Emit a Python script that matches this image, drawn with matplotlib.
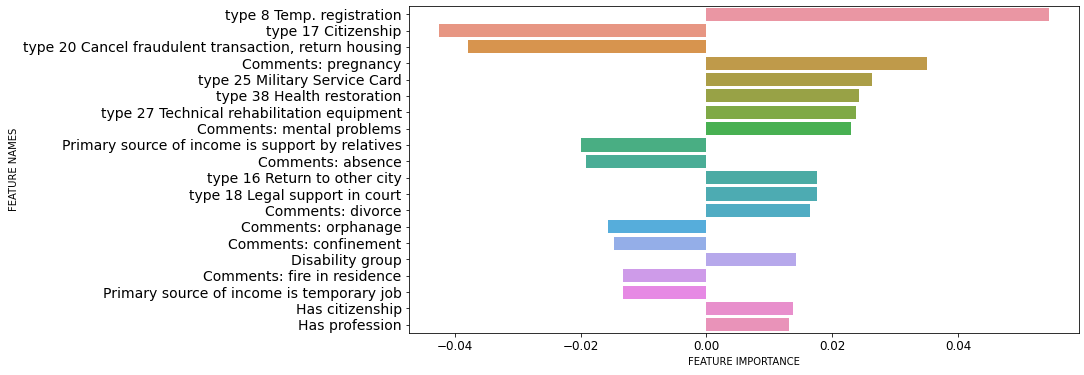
import matplotlib
matplotlib.use('Agg')
from matplotlib import pyplot as plt
import seaborn as sns

features = [
    'type 8 Temp. registration',
    'type 17 Citizenship',
    'type 20 Cancel fraudulent transaction, return housing',
    'Comments: pregnancy',
    'type 25 Military Service Card',
    'type 38 Health restoration',
    'type 27 Technical rehabilitation equipment',
    'Comments: mental problems',
    'Primary source of income is support by relatives',
    'Comments: absence',
    'type 16 Return to other city',
    'type 18 Legal support in court',
    'Comments: divorce',
    'Comments: orphanage',
    'Comments: confinement',
    'Disability group',
    'Comments: fire in residence',
    'Primary source of income is temporary job',
    'Has citizenship',
    'Has profession',
]
importance = [0.0544, -0.0425, -0.0379, 0.0350, 0.0263, 0.0243, 0.0238, 0.0229,
              -0.0199, -0.0191, 0.0176, 0.0175, 0.0165, -0.0157, -0.0147, 0.0142,
              -0.0133, -0.0133, 0.0137, 0.0132]

colors = [sns.desaturate(c, 0.75) for c in sns.husl_palette(len(features), l=.7)]

fig = plt.figure(figsize=(1084 / 72, 375 / 72), dpi=72)
ax = fig.add_axes([0.377, 0.112, 0.6185, 0.872])
ypos = list(range(len(features)))
ax.barh(ypos, importance, height=0.8, color=colors)
ax.set_yticks(ypos)
ax.set_yticklabels(features, fontsize=14)
ax.set_ylim(len(features) - 0.5, -0.5)
ax.tick_params(axis='x', labelsize=12)
ax.set_xlabel('FEATURE IMPORTANCE', fontsize=10)
ax.set_ylabel('FEATURE NAMES', fontsize=10)
fig.savefig('out.png', dpi=72)
